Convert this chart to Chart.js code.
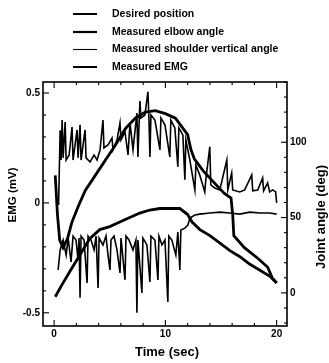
<!DOCTYPE html>
<html>
<head>
<meta charset="utf-8">
<script src="https://cdn.jsdelivr.net/npm/chart.js@4/dist/chart.umd.min.js"></script>
<style>
  html, body { margin: 0; padding: 0; background: #fff; }
</style>
</head>
<body>
<canvas id="chart" width="329" height="363"></canvas>
<script>
// legend labels, in the order they are listed
const seriesNames = ["Desired position", "Measured elbow angle", "Measured shoulder vertical angle", "Measured EMG"];

// desired position: time (sec) / joint angle (deg)
const desiredT = [0.1, 0.7, 1.4, 2.3, 3.2, 4.1, 5.0, 5.9, 6.8, 7.7, 8.6, 9.5, 10.4, 11.3, 12.0, 12.4, 13.1, 14.0, 14.9, 15.8, 16.7, 17.6, 18.5, 19.4, 20.0];
const desiredA = [-2.6, 5.3, 14, 25, 36, 42, 44, 47, 50, 53, 55, 56, 56, 56, 52, 47, 42, 38, 33, 28, 24, 19, 15, 11, 6.6];

// measured elbow angle (deg)
const elbowT = [0.1, 0.3, 0.5, 0.8, 1.2, 1.6, 2.2, 2.8, 3.7, 4.6, 5.5, 6.4, 7.3, 8.2, 9.1, 10.0, 10.9, 11.6, 12.0, 12.3, 12.6, 13.4, 14.4, 15.3, 15.9, 16.05, 16.15, 17.1, 18.3, 19.2, 19.6, 20.0];
const elbowA = [78, 52, 35, 30, 36, 47, 58, 68, 78, 88, 98, 109, 116, 120, 121, 119, 116, 109, 105, 95, 89, 81, 73, 66, 63, 52, 38, 30, 23, 17, 10, 6.6];

// measured shoulder vertical angle (deg)
const shoulderT = [0.36,0.54,0.81,1.08,1.26,1.52,1.70,1.97,2.15,2.24,2.33,2.42,2.69,2.96,3.05,3.32,3.59,3.77,3.95,4.04,4.39,4.66,4.84,5.02,5.11,5.38,5.65,5.92,6.01,6.37,6.46,6.73,7.09,7.35,7.44,7.53,7.89,7.98,8.34,8.61,8.70,9.06,9.33,9.42,9.69,9.96,10.22,10.31,10.58,10.94,11.12,11.30,11.39,11.75,12.02,12.20,12.65,13.09,13.99,14.89,15.78,16.68,17.58,18.48,19.37,20.0];
const shoulderA = [15.2,28.5,35.1,25.2,36.4,20.5,37.7,35.1,21.9,36.4,-3.3,37.7,35.1,6.6,37.7,35.1,28.5,37.7,3.3,36.4,31.8,37.7,25.2,15.2,35.1,37.7,28.5,13.2,36.4,8.6,37.7,35.1,28.5,35.1,-13.2,35.1,0,36.4,31.8,7.3,37.7,35.1,8.6,37.7,31.8,35.1,-6.0,37.7,35.1,25.2,40.4,15.2,41.7,43.0,45.0,49.7,51.7,52.3,53.0,53.6,53.0,52.3,53.6,53.0,53.0,52.3];

// measured EMG (mV)
const emgT = [0.4,0.54,0.63,0.72,0.81,0.99,1.08,1.35,1.61,1.70,2.06,2.15,2.33,2.42,2.78,2.87,3.23,3.59,3.86,4.13,4.39,4.48,4.84,5.20,5.29,5.65,5.92,6.01,6.37,6.64,6.82,7.09,7.44,7.53,7.71,7.80,8.16,8.43,8.52,8.61,8.70,9.06,9.51,9.60,9.96,10.40,10.49,10.85,11.12,11.21,11.57,11.75,11.84,12.2,12.65,12.74,13.09,13.54,13.63,13.99,14.08,14.44,14.89,15.52,15.61,15.96,16.05,16.68,17.13,17.76,17.85,18.3,18.74,18.83,19.19,19.37,19.64,19.91,20.0];
const emgV = [-0.01,0.33,0.195,0.377,0.205,0.368,0.195,0.218,0.345,0.195,0.332,0.205,0.355,0.195,0.332,0.205,0.186,0.218,0.195,0.241,0.377,0.25,0.264,0.295,0.241,0.286,0.364,0.286,0.323,0.218,0.364,0.241,0.409,0.209,0.464,0.386,0.4,0.505,0.386,0.209,0.4,0.377,0.241,0.386,0.355,0.209,0.377,0.341,0.164,0.341,0.309,0.105,0.286,0.195,0.059,0.173,0.127,0.05,0.105,0.255,0.082,0.068,0.059,0.195,0.059,0.136,0.059,0.05,0.059,0.127,0.055,0.059,0.114,0.055,0.091,0.05,0.059,0.05,0.0];

// axis tick labels
const timeTicks = [0, 10, 20];
const emgTicks = [-0.5, 0, 0.5];
const angleTicks = [0, 50, 100];

const FONT = "'Liberation Sans', Arial, sans-serif";

function pts(xs, ys) {
  return xs.map((x, i) => ({ x: x, y: ys[i] }));
}

// frame, inward ticks, legend and axis titles
const decor = {
  id: 'decor',
  afterDraw(chart) {
    const { ctx, chartArea: a, scales } = chart;
    const seg = (x1, y1, x2, y2) => { ctx.beginPath(); ctx.moveTo(x1, y1); ctx.lineTo(x2, y2); ctx.stroke(); };
    ctx.save();
    ctx.strokeStyle = '#000';
    ctx.lineWidth = 1.6;
    ctx.strokeRect(a.left, a.top, a.right - a.left, a.bottom - a.top);

    ctx.lineWidth = 1.1;
    for (let t = 0; t <= 20; t += 2) {
      const px = scales.x.getPixelForValue(t);
      const len = timeTicks.includes(t) ? 6 : 3;
      seg(px, a.bottom, px, a.bottom - len);
      seg(px, a.top, px, a.top + len);
    }
    for (let k = -5; k <= 5; k++) {
      const py = scales.yEmg.getPixelForValue(k / 10);
      const len = k % 5 === 0 ? 6 : 3;
      seg(a.left, py, a.left + len, py);
    }
    for (let v = -20; v <= 140; v += 10) {
      const py = scales.yAng.getPixelForValue(v);
      const len = angleTicks.includes(v) ? 6 : 3;
      seg(a.right, py, a.right - len, py);
    }

    // legend
    const rowY = [14, 32, 49.5, 67];
    ctx.fillStyle = '#000';
    ctx.font = 'bold 10.5px ' + FONT;
    ctx.textBaseline = 'middle';
    ctx.textAlign = 'left';
    chart.data.datasets.forEach((ds, i) => {
      ctx.lineWidth = ds.legendWidth;
      seg(73, rowY[i], 97, rowY[i]);
      ctx.fillText(ds.label, 112, rowY[i]);
    });

    // axis titles
    ctx.textAlign = 'center';
    ctx.font = 'bold 13px ' + FONT;
    ctx.fillText('Time (sec)', 167, 352);
    ctx.save();
    ctx.translate(13, 195);
    ctx.rotate(-Math.PI / 2);
    ctx.font = 'bold 11.5px ' + FONT;
    ctx.fillText('EMG (mV)', 0, 0);
    ctx.restore();
    ctx.save();
    ctx.translate(321, 217);
    ctx.rotate(-Math.PI / 2);
    ctx.font = 'bold 13px ' + FONT;
    ctx.fillText('Joint angle (deg)', 0, 0);
    ctx.restore();
    ctx.restore();
  }
};

const tickFont = { family: FONT, size: 10, weight: 'bold' };

new Chart(document.getElementById('chart'), {
  type: 'line',
  data: {
    datasets: [
      { label: seriesNames[0], data: pts(desiredT, desiredA), yAxisID: 'yAng', borderWidth: 2.8, legendWidth: 2 },
      { label: seriesNames[1], data: pts(elbowT, elbowA), yAxisID: 'yAng', borderWidth: 2.8, legendWidth: 2.2 },
      { label: seriesNames[2], data: pts(shoulderT, shoulderA), yAxisID: 'yAng', borderWidth: 1.6, legendWidth: 1.1 },
      { label: seriesNames[3], data: pts(emgT, emgV), yAxisID: 'yEmg', borderWidth: 1.6, legendWidth: 2 }
    ].map(d => Object.assign(d, { borderColor: '#000', pointRadius: 0, tension: 0, fill: false }))
  },
  options: {
    responsive: false,
    animation: false,
    layout: { padding: { top: 82, left: 0, right: 0, bottom: 0 } },
    plugins: { legend: { display: false }, tooltip: { enabled: false } },
    scales: {
      x: {
        type: 'linear', min: -1, max: 20.93,
        afterFit: s => { s.height = 37; },
        grid: { display: false, drawTicks: false },
        border: { display: false },
        ticks: { stepSize: 10, includeBounds: false, padding: 2, color: '#000', font: tickFont, maxRotation: 0 }
      },
      yEmg: {
        type: 'linear', position: 'left', min: -0.56, max: 0.55,
        afterFit: s => { s.width = 43; },
        grid: { display: false, drawTicks: false },
        border: { display: false },
        ticks: { stepSize: 0.5, includeBounds: false, padding: 3, color: '#000', font: tickFont,
                 callback: v => emgTicks.includes(v) ? String(v) : '' }
      },
      yAng: {
        type: 'linear', position: 'right', min: -22, max: 140,
        afterFit: s => { s.width = 42; },
        grid: { display: false, drawTicks: false },
        border: { display: false },
        ticks: { stepSize: 50, includeBounds: false, padding: 3, color: '#000', font: tickFont,
                 callback: v => angleTicks.includes(v) ? String(v) : '' }
      }
    }
  },
  plugins: [decor]
});
</script>
</body>
</html>
